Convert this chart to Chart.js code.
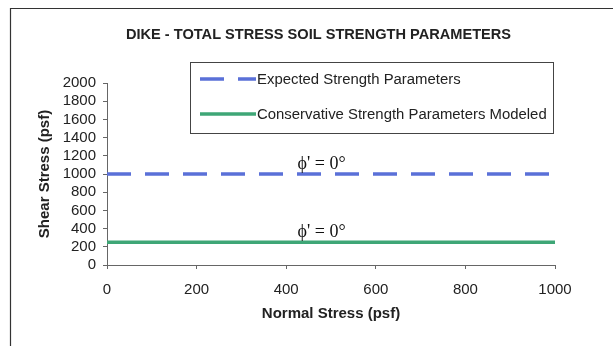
<!DOCTYPE html>
<html>
<head>
<meta charset="utf-8">
<title>Dike - Total Stress Soil Strength Parameters</title>
<script src="https://cdn.jsdelivr.net/npm/chart.js@4.4.1/dist/chart.umd.min.js"></script>
<style>
  html, body { margin: 0; padding: 0; background: #fff; }
  canvas { display: block; }
</style>
</head>
<body>
<canvas id="strengthChart" width="613" height="346"></canvas>
<script>
// strength envelopes (normal stress vs shear stress, psf)
const normalStress = [0, 1000];
const expectedShear = [1000, 1000];
const conservativeShear = [250, 250];

const seriesLabels = ["Expected Strength Parameters", "Conservative Strength Parameters Modeled"];
const titleText = "DIKE - TOTAL STRESS SOIL STRENGTH PARAMETERS";

// friction angle notes placed just above each envelope
const noteText = ["\u03D5' = 0\u00B0", "\u03D5' = 0\u00B0"];
const noteX = [479, 479];
const noteY = [1000, 250];

const blue = "#5a70d8";
const green = "#3ea676";
const axisFont = "'Liberation Sans', Arial, sans-serif";

function toPoints(xs, ys) {
    return xs.map((x, i) => ({ x: x, y: ys[i] }));
}

// plain numbers, no thousands separator
function plain(value) {
    return String(value);
}

// frame lines, title, legend box and the phi notes
const decorations = {
    id: "decorations",
    beforeDraw(chart) {
        const ctx = chart.ctx;
        ctx.save();
        ctx.fillStyle = "#fff";
        ctx.fillRect(0, 0, chart.width, chart.height);
        ctx.strokeStyle = "#333";
        ctx.lineWidth = 1.2;
        ctx.beginPath();
        ctx.moveTo(10.5, chart.height);
        ctx.lineTo(10.5, 8.5);
        ctx.lineTo(chart.width, 8.5);
        ctx.stroke();

        ctx.fillStyle = "#222";
        ctx.font = "bold 14.6px " + axisFont;
        ctx.textAlign = "center";
        ctx.textBaseline = "middle";
        ctx.fillText(titleText, 318.5, 35);
        ctx.restore();
    },
    afterDatasetsDraw(chart) {
        const ctx = chart.ctx;
        const xs = chart.scales.x, ys = chart.scales.y;
        ctx.save();

        // notes
        ctx.fillStyle = "#111";
        ctx.font = "18px 'Liberation Serif', 'DejaVu Serif', serif";
        ctx.textAlign = "center";
        ctx.textBaseline = "bottom";
        noteText.forEach((t, i) => {
            ctx.fillText(t, xs.getPixelForValue(noteX[i]), ys.getPixelForValue(noteY[i]) - 1);
        });

        // legend
        const box = { left: 190, top: 62, right: 553, bottom: 133 };
        ctx.fillStyle = "#fff";
        ctx.fillRect(box.left, box.top, box.right - box.left, box.bottom - box.top);
        ctx.strokeStyle = "#444";
        ctx.lineWidth = 1;
        ctx.strokeRect(box.left + 0.5, box.top + 0.5, box.right - box.left, box.bottom - box.top);

        const rows = [79, 114];
        ctx.font = "14.9px " + axisFont;
        ctx.textAlign = "left";
        ctx.textBaseline = "middle";
        chart.data.datasets.forEach((ds, i) => {
            ctx.strokeStyle = ds.borderColor;
            ctx.lineWidth = ds.borderWidth;
            ctx.setLineDash(ds.borderDash || []);
            ctx.beginPath();
            ctx.moveTo(200, rows[i]);
            ctx.lineTo(256, rows[i]);
            ctx.stroke();
            ctx.setLineDash([]);
            ctx.fillStyle = "#222";
            ctx.fillText(ds.label, 257, rows[i] + 1);
        });
        ctx.restore();
    }
};

new Chart(document.getElementById("strengthChart"), {
    type: "scatter",
    data: {
        datasets: [
            {
                label: seriesLabels[0],
                data: toPoints(normalStress, expectedShear),
                showLine: true,
                borderColor: blue,
                backgroundColor: blue,
                borderWidth: 3.5,
                borderDash: [24, 14],
                pointRadius: 0
            },
            {
                label: seriesLabels[1],
                data: toPoints(normalStress, conservativeShear),
                showLine: true,
                borderColor: green,
                backgroundColor: green,
                borderWidth: 3.5,
                pointRadius: 0
            }
        ]
    },
    options: {
        responsive: false,
        animation: false,
        layout: { padding: { left: 0, right: 58, top: 83, bottom: 0 } },
        plugins: {
            legend: { display: false },
            title: { display: false },
            tooltip: { enabled: false }
        },
        scales: {
            x: {
                type: "linear",
                min: 0,
                max: 1000,
                afterFit(scale) { scale.height = 81; },
                ticks: {
                    stepSize: 200,
                    autoSkip: false,
                    callback: plain,
                    color: "#222",
                    padding: 12,
                    font: { family: axisFont, size: 15 }
                },
                grid: { drawOnChartArea: false, drawTicks: true, tickLength: 4, color: "#666" },
                border: { color: "#666", width: 1 },
                title: {
                    display: true,
                    text: "Normal Stress (psf)",
                    color: "#222",
                    font: { family: axisFont, size: 15, weight: "bold" },
                    padding: { top: 0, bottom: 23 }
                }
            },
            y: {
                type: "linear",
                min: 0,
                max: 2000,
                afterFit(scale) { scale.width = 107; },
                ticks: {
                    stepSize: 200,
                    autoSkip: false,
                    callback: plain,
                    color: "#222",
                    padding: 7,
                    font: { family: axisFont, size: 15 }
                },
                grid: { drawOnChartArea: false, drawTicks: true, tickLength: 4, color: "#666" },
                border: { color: "#666", width: 1 },
                title: {
                    display: true,
                    text: "Shear Stress (psf)",
                    color: "#222",
                    font: { family: axisFont, size: 15, weight: "bold" },
                    padding: { top: 36, bottom: 0 }
                }
            }
        }
    },
    plugins: [decorations]
});
</script>
</body>
</html>
